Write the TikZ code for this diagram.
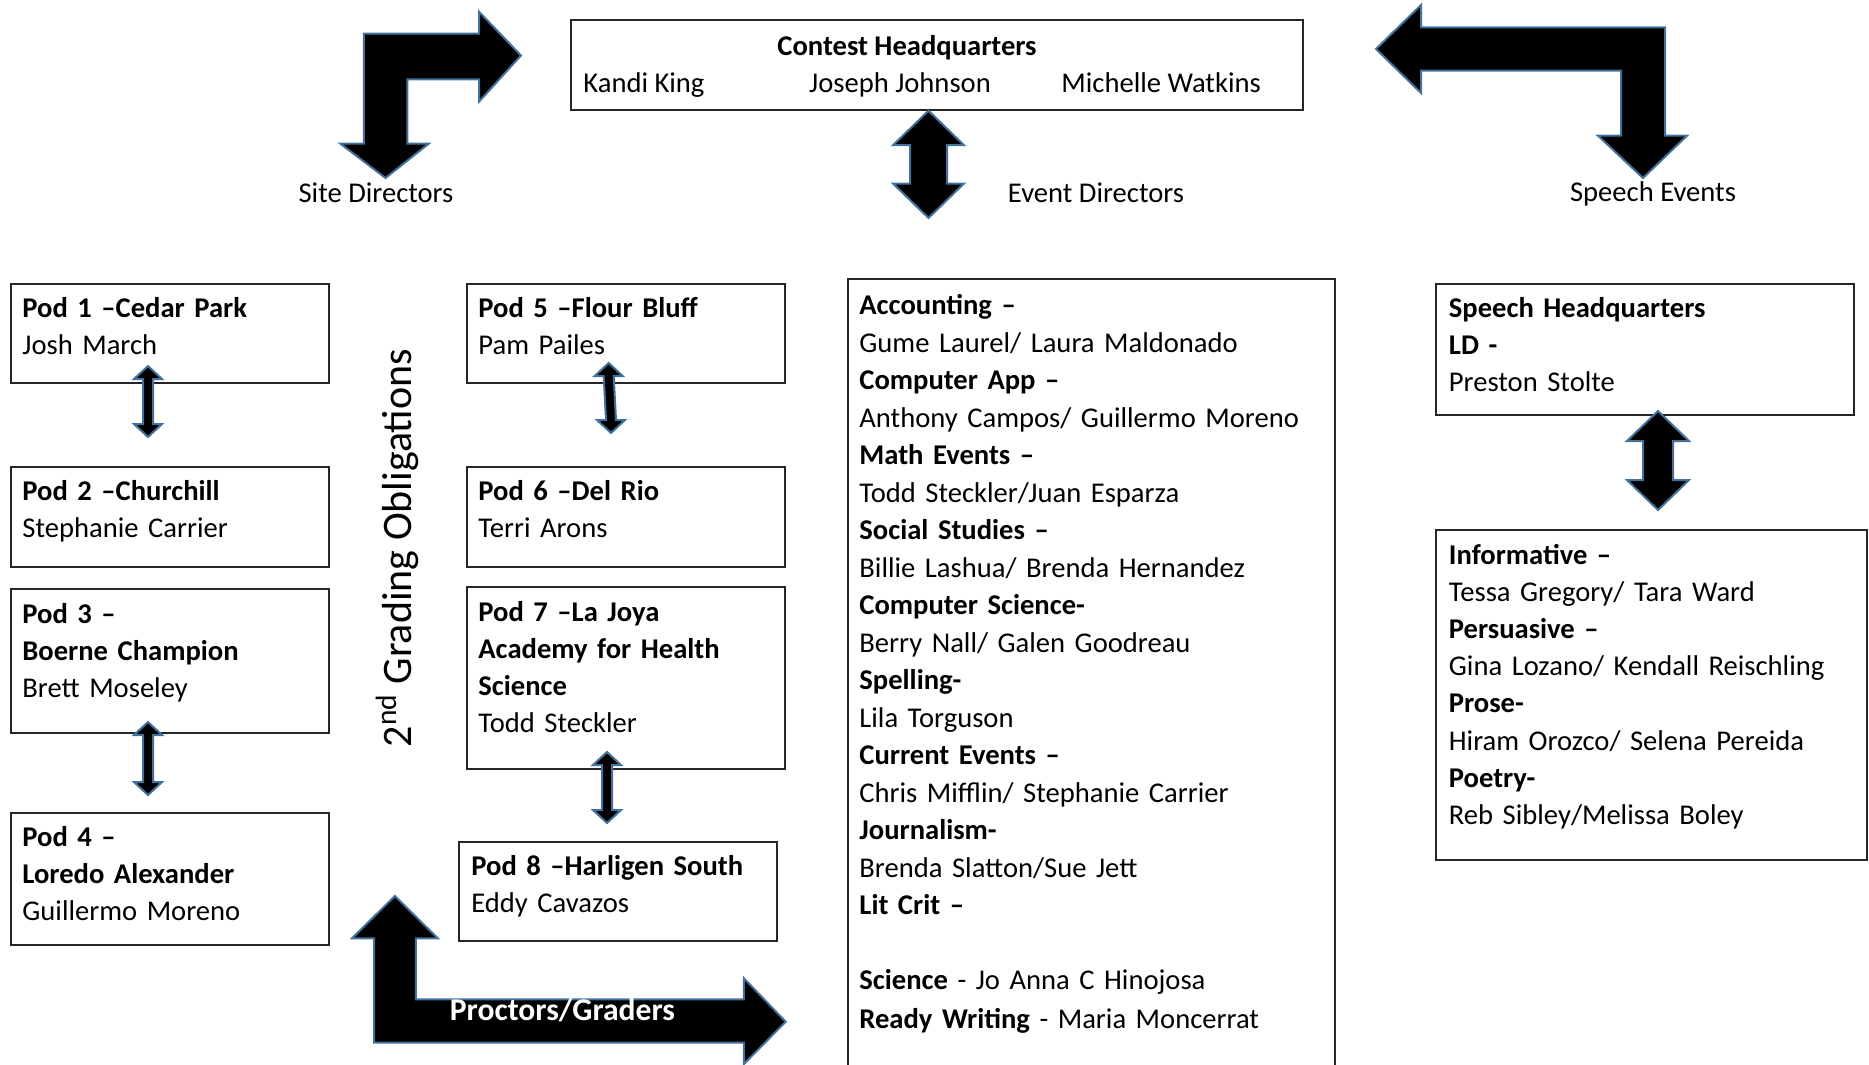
\documentclass[tikz,border=0pt]{standalone}
\usepackage{fontspec}
\setmainfont{Carlito}
\usetikzlibrary{calc,fit}

\definecolor{arrowedge}{RGB}{65,113,156}

\tikzset{
  box/.style={draw=black!85, line width=1pt, inner sep=0pt},
  txt/.style={anchor=base west, align=left, text width=240pt, inner sep=0pt,
    font=\fontsize{14.3}{18.6}\selectfont},
  lbl/.style={inner sep=0pt, font=\fontsize{14.3}{18.6}\selectfont},
  blockarrow/.style={fill=black, draw=arrowedge, line width=1pt, line join=miter},
}

% up/down block arrow: top tip, bottom tip, head half width, shaft half width, head length
\newcommand{\twoheadblock}[5]{
  \filldraw[blockarrow] (#1) -- ($(#1)+(#3,#5)$) -- ($(#1)+(#4,#5)$)
    -- ($(#2)+(#4,-#5)$) -- ($(#2)+(#3,-#5)$) -- (#2)
    -- ($(#2)+(-#3,-#5)$) -- ($(#2)+(-#4,-#5)$)
    -- ($(#1)+(-#4,#5)$) -- ($(#1)+(-#3,#5)$) -- cycle;
}

\begin{document}
\begin{tikzpicture}[x=0.5pt,y=-0.5pt]
  \useasboundingbox (0,0) rectangle (1869,1065);
  \clip (0,0) rectangle (1869,1065);

  \node[box, fit={(571,20) (1303,110)}] (hq) {};
  \node[lbl, anchor=base] (hqtitle) at (907,55.5) {\textbf{Contest Headquarters}};
  \node[lbl, anchor=base west] (king) at (583,92.5) {Kandi King};
  \node[lbl, anchor=base] (johnson) at (900,92.5) {Joseph Johnson};
  \node[lbl, anchor=base west] (watkins) at (1061,92.5) {Michelle Watkins};

  \node[lbl, anchor=base] (site) at (376,202) {Site Directors};
  \node[lbl, anchor=base] (eventdir) at (1096,202) {Event Directors};
  \node[lbl, anchor=base] (speechev) at (1653,201) {Speech Events};

  \node[box, fit={(11,283.5) (329,383)}] (pod1) {};
  \node[box, fit={(11,466.5) (329,566.5)}] (pod2) {};
  \node[box, fit={(11,589) (329,733)}] (pod3) {};
  \node[box, fit={(11,812.5) (329,945)}] (pod4) {};
  \node[box, fit={(467,283.5) (785,383)}] (pod5) {};
  \node[box, fit={(467,466.5) (785,566.5)}] (pod6) {};
  \node[box, fit={(467,587) (785,769)}] (pod7) {};
  \node[box, fit={(459,841.5) (777,941)}] (pod8) {};

  \node[txt] (pod1txt) at ($(pod1.north west)+(12,35)$) {\textbf{Pod 1 --Cedar Park}\\Josh March};
  \node[txt] (pod2txt) at ($(pod2.north west)+(12,35)$) {\textbf{Pod 2 --Churchill}\\Stephanie Carrier};
  \node[txt] (pod3txt) at ($(pod3.north west)+(12,35)$) {\textbf{Pod 3 --}\\\textbf{Boerne Champion}\\Brett Moseley};
  \node[txt] (pod4txt) at ($(pod4.north west)+(12,35)$) {\textbf{Pod 4 --}\\\textbf{Loredo Alexander}\\Guillermo Moreno};
  \node[txt] (pod5txt) at ($(pod5.north west)+(12,35)$) {\textbf{Pod 5 --Flour Bluff}\\Pam Pailes};
  \node[txt] (pod6txt) at ($(pod6.north west)+(12,35)$) {\textbf{Pod 6 --Del Rio}\\Terri Arons};
  \node[txt] (pod7txt) at ($(pod7.north west)+(12,35)$) {\textbf{Pod 7 --La Joya}\\\textbf{Academy for Health}\\\textbf{Science}\\Todd Steckler};
  \node[txt] (pod8txt) at ($(pod8.north west)+(13,35)$) {\textbf{Pod 8 --Harligen South}\\Eddy Cavazos};

  \node[lbl, rotate=90, font=\fontsize{21}{24}\selectfont] (grading) at (397,548)
    {2\textsuperscript{nd} Grading Obligations};

  \node[box, fit={(847.5,279) (1335,1090)}] (events) {};
  \node[txt, font=\fontsize{14.3}{18.75}\selectfont] (eventstxt) at ($(events.north west)+(12.5,36.5)$)
    {\textbf{Accounting --}\\Gume Laurel/ Laura Maldonado\\
     \textbf{Computer App --}\\Anthony Campos/ Guillermo Moreno\\
     \textbf{Math Events --}\\Todd Steckler/Juan Esparza\\
     \textbf{Social Studies --}\\Billie Lashua/ Brenda Hernandez\\
     \textbf{Computer Science-}\\Berry Nall/ Galen Goodreau\\
     \textbf{Spelling-}\\Lila Torguson\\
     \textbf{Current Events --}\\Chris Mifflin/ Stephanie Carrier\\
     \textbf{Journalism-}\\Brenda Slatton/Sue Jett\\
     \textbf{Lit Crit --}\\[18.75pt]
     \textbf{Science} - Jo Anna C Hinojosa\\[0.75pt]
     \textbf{Ready Writing} - Maria Moncerrat};

  \node[box, fit={(1436,283.5) (1854,415)}] (speechhq) {};
  \node[txt] (speechhqtxt) at ($(speechhq.north west)+(13.5,35)$)
    {\textbf{Speech Headquarters}\\\textbf{LD -}\\Preston Stolte};
  \node[box, fit={(1436,530) (1867,859.5)}] (speech) {};
  \node[txt] (speechtxt) at ($(speech.north west)+(13.5,35)$)
    {\textbf{Informative --}\\Tessa Gregory/ Tara Ward\\
     \textbf{Persuasive --}\\Gina Lozano/ Kendall Reischling\\
     \textbf{Prose-}\\Hiram Orozco/ Selena Pereida\\
     \textbf{Poetry-}\\Reb Sibley/Melissa Boley};

  \coordinate (a12t) at (148,366);     \coordinate (a12b) at (148,437);
  \coordinate (a34t) at (148,722);     \coordinate (a34b) at (148,795);
  \coordinate (a56t) at (608.7,363);   \coordinate (a56b) at (611,433);
  \coordinate (a78t) at (607,752);     \coordinate (a78b) at (607,823);
  \coordinate (evt) at (928.5,110.7);  \coordinate (evb) at (928.5,218);
  \coordinate (spt) at (1658,411);     \coordinate (spb) at (1658,510);

  \twoheadblock{a12t}{a12b}{14}{5}{13}
  \twoheadblock{a34t}{a34b}{14}{5}{13}
  \twoheadblock{a56t}{a56b}{14}{5}{13}
  \twoheadblock{a78t}{a78b}{14}{5}{13}
  \twoheadblock{evt}{evb}{35.5}{18.5}{34.5}
  \twoheadblock{spt}{spb}{31}{15}{30}

  \filldraw[blockarrow] (521,55.5) -- (479,101.7) -- (479,79.5) -- (407.3,79.5)
    -- (407.3,143.6) -- (428.8,143.6) -- (385.5,178) -- (340.3,143.6)
    -- (363.8,143.6) -- (363.8,33.6) -- (479,33.6) -- (479,11.7) -- cycle;

  \filldraw[blockarrow] (1376,49) -- (1421,5) -- (1421,27.3) -- (1665,27.3)
    -- (1665,135.7) -- (1687,135.7) -- (1643,178) -- (1598,135.7)
    -- (1621,135.7) -- (1621,70.7) -- (1421,70.7) -- (1421,93) -- cycle;

  \filldraw[blockarrow] (394.9,896) -- (437.8,938.3) -- (415.8,938.3) -- (415.8,999.3)
    -- (743.9,999.3) -- (743.9,978.3) -- (785.7,1021.7) -- (743.9,1064)
    -- (743.9,1042.7) -- (374,1042.7) -- (374,938.3) -- (352,938.3) -- cycle;
  \node[lbl, anchor=base, text=white, font=\bfseries\fontsize{15.8}{18}\selectfont] (proctors)
    at (562.5,1020) {Proctors/Graders};
\end{tikzpicture}
\end{document}
